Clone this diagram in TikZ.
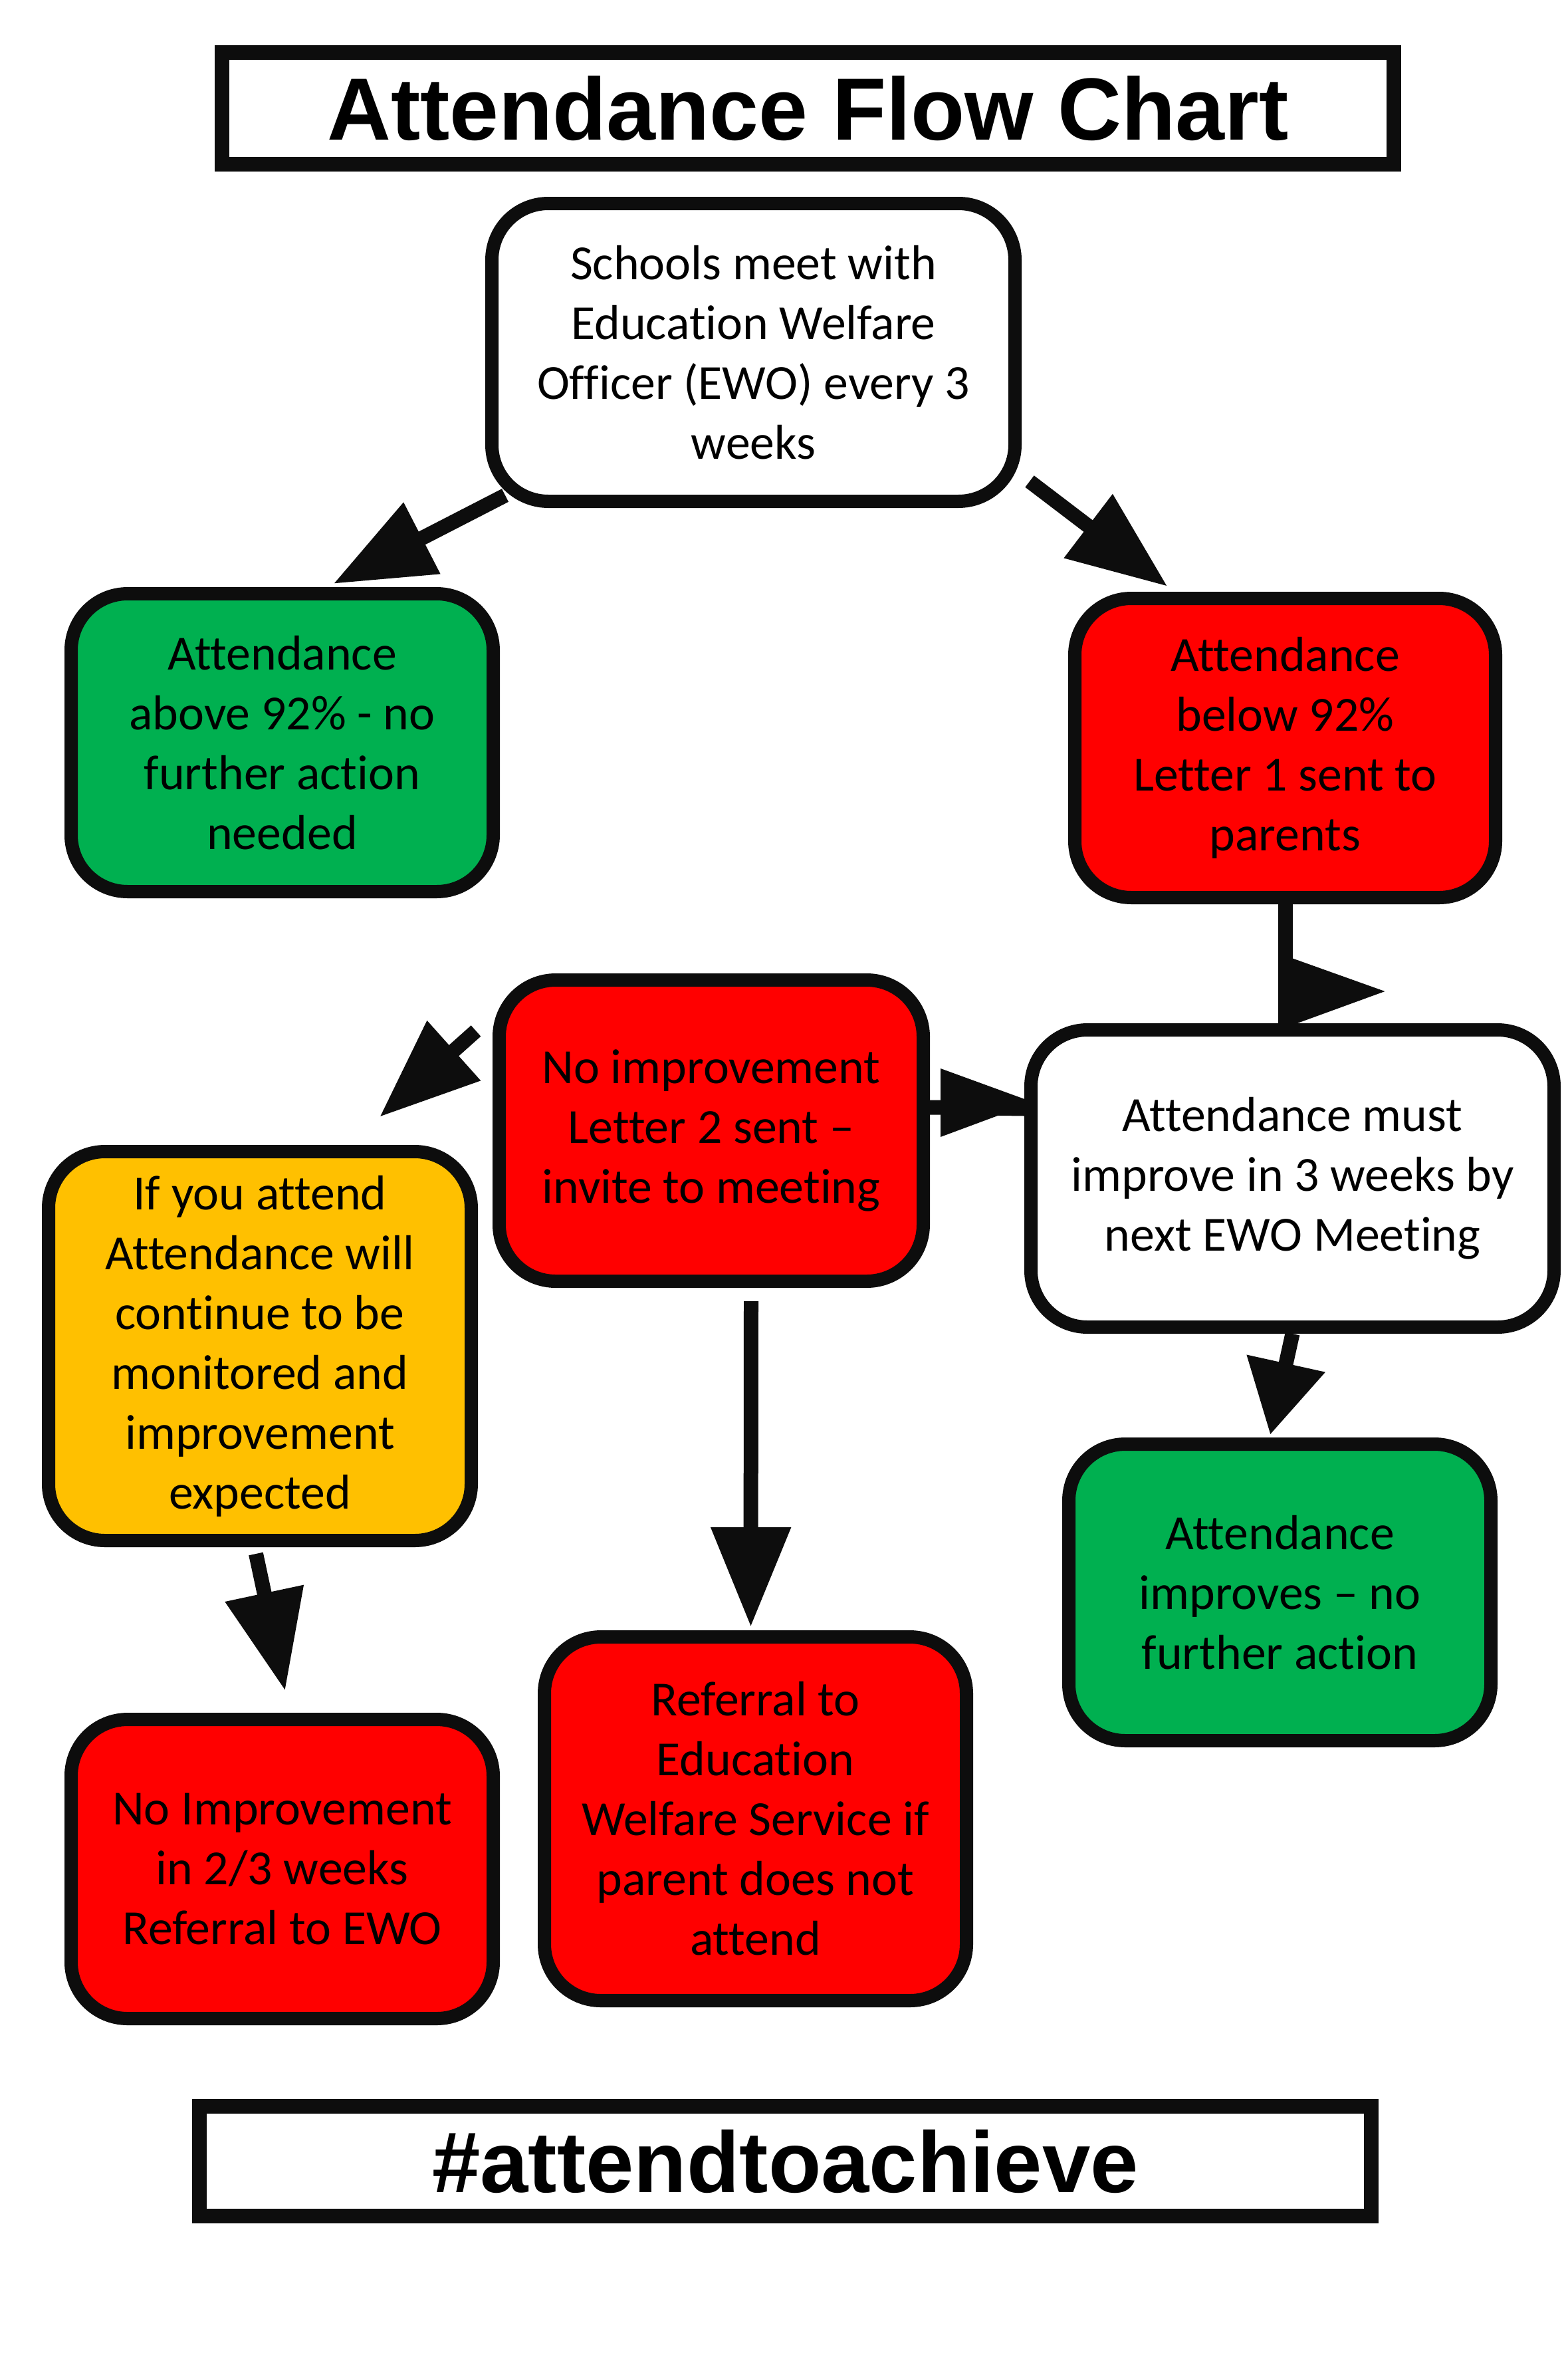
\documentclass[tikz,border=0pt]{standalone}
\usepackage{fontspec}
\setmainfont{Carlito}[Ligatures=NoCommon]
\newfontfamily\headfont{Liberation Sans}
\usepackage{tikz}
\usetikzlibrary{calc,positioning,arrows.meta,shapes}
\definecolor{okgreen}{RGB}{0,176,80}
\definecolor{badred}{RGB}{255,0,0}
\definecolor{amber}{RGB}{255,192,0}
\definecolor{ink}{RGB}{13,13,13}

\begin{document}
\begin{tikzpicture}
\tikzstyle{box}=[rectangle, draw=ink, line width=0.2cm, rounded corners=0.85cm,
                 align=center, inner sep=0pt, minimum width=6.35cm,
                 font=\fontsize{21}{25.6}\selectfont]
\tikzstyle{banner}=[rectangle, draw=ink, line width=0.22cm, fill=white, inner sep=0pt,
                    minimum width=17.63cm, font=\headfont\bfseries\fontsize{37.8}{46}\selectfont]
\tikzstyle{arr}=[draw=ink, line width=0.22cm, -{Triangle[length=1.5cm,width=1.15cm]}]
\tikzstyle{shaft}=[draw=ink, line width=0.22cm]
\useasboundingbox (0,0) rectangle (23.59,-35.42);
\node[banner, minimum height=1.68cm] (title) at (12.155,-1.63) {Attendance Flow Chart};
\node[box, fill=white, minimum width=7.87cm, minimum height=4.48cm] (meet) at (11.335,-5.30)
  {Schools meet with\\Education Welfare\\Officer (EWO) every 3\\weeks};
\node[box, fill=okgreen, minimum height=4.48cm] (above) at (4.245,-11.17)
  {Attendance\\above 92\% - no\\further action\\needed};
\node[box, fill=badred, minimum width=6.33cm, minimum height=4.5cm] (below) at (19.335,-11.25)
  {Attendance\\below 92\%\\Letter 1 sent to\\parents};
\node[box, fill=badred, minimum width=6.38cm, minimum height=4.53cm] (letter2) at (10.70,-17.005)
  {No improvement\\Letter 2 sent --\\invite to meeting};
\node[box, fill=white, minimum width=7.87cm, minimum height=4.47cm] (mustimp) at (19.445,-17.725)
  {Attendance must\\improve in 3 weeks by\\next EWO Meeting};
\node[box, fill=amber, minimum width=6.36cm, minimum height=5.85cm] (ifattend) at (3.91,-20.245)
  {If you attend\\Attendance will\\continue to be\\monitored and\\improvement\\expected};
\node[box, fill=okgreen, minimum height=4.46cm] (improves) at (19.255,-23.95)
  {Attendance\\improves -- no\\further action};
\node[box, fill=badred, minimum height=4.5cm] (noimp) at (4.245,-28.11)
  {No Improvement\\in 2/3 weeks\\Referral to EWO};
\node[box, fill=badred, minimum height=5.47cm] (referral) at (11.365,-27.355)
  {Referral to\\Education\\Welfare Service if\\parent does not\\attend};
\node[banner, minimum height=1.65cm, font=\headfont\bfseries\fontsize{37}{46}\selectfont] (tag) at (11.815,-32.505) {\#attendtoachieve};
\draw[arr] ([shift={(0.3,0.19)}]meet.south west) -- ([xshift=0.77cm,yshift=0.05cm]above.north);
\draw[arr] ([shift={(0.12,0.4)}]meet.south east) -- ([xshift=-1.77cm,yshift=0.08cm]below.north);
\draw[shaft] (below.south) -- (below.south |- mustimp.north);
\fill[ink] ($(below.south)+(0.1,-0.81)$) -- ($(below.south)+(1.5,-1.31)$)
  -- ($(below.south)+(0.1,-1.82)$) -- cycle;
\draw[shaft] ([yshift=1.05cm]mustimp.west) -- ([yshift=0.35cm]letter2.east);
\fill[ink] ($(letter2.east)+(0.16,0.935)$) -- ($(letter2.east)+(1.56,0.425)$)
  -- ($(letter2.east)+(0.16,-0.095)$) -- cycle;
\draw[arr] ([xshift=-0.25cm,yshift=1.5cm]letter2.west) -- ([xshift=1.8cm,yshift=0.42cm]ifattend.north);
\draw[arr] ([xshift=0.6cm,yshift=-0.2cm]letter2.south) -- ([xshift=-0.07cm,yshift=0.05cm]referral.north);
\draw[arr] ([xshift=-0.06cm,yshift=-0.1cm]ifattend.south) -- ([xshift=0.045cm,yshift=0.33cm]noimp.north);
\draw[arr, -{Triangle[length=1.1cm,width=1.15cm]}] (mustimp.south) -- ([xshift=-0.145cm,yshift=0.04cm]improves.north);
\end{tikzpicture}
\end{document}
